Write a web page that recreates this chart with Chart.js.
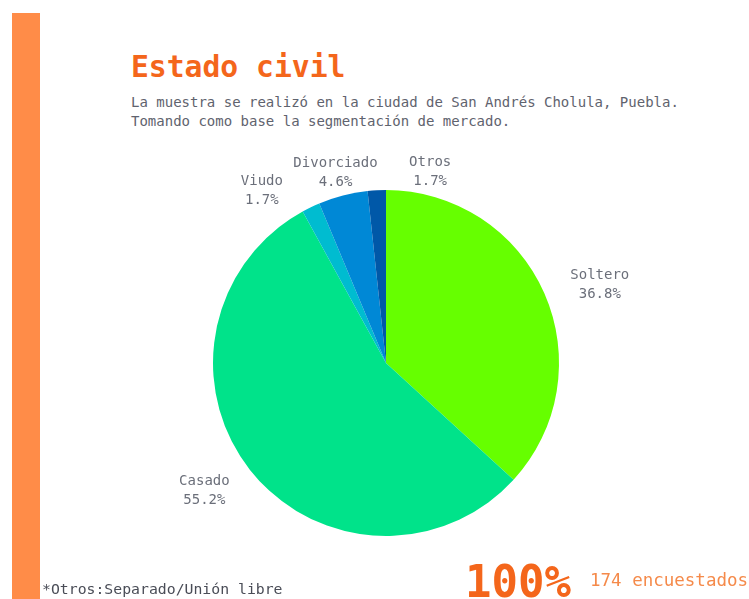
<!DOCTYPE html>
<html lang="es">
<head>
<meta charset="utf-8">
<title>Estado civil</title>
<script src="https://cdn.jsdelivr.net/npm/chart.js@4"></script>
<style>
  html, body { margin: 0; padding: 0; background: #ffffff; }
  body { width: 749px; height: 599px; position: relative; overflow: hidden;
         font-family: "DejaVu Sans Mono", "Liberation Mono", monospace; }
  .stripe { position: absolute; left: 12px; top: 13px; width: 28px; height: 586px; background: #ff8c48; }
  .title { position: absolute; left: 131px; top: 52px; font-size: 29.7px; line-height: 30px;
           font-weight: bold; color: #f4661b; white-space: nowrap; }
  .subtitle { position: absolute; left: 131px; top: 93px; font-size: 14px; line-height: 19px;
              color: #5f636e; white-space: nowrap; }
  .note { position: absolute; left: 42px; top: 581px; font-size: 14.8px; line-height: 15px;
          color: #4a4d57; white-space: nowrap; }
  .total { position: absolute; left: 465px; top: 560px; font-size: 44px; line-height: 44px;
           font-weight: bold; color: #f4661b; white-space: nowrap; }
  .count { position: absolute; left: 590px; top: 571px; font-size: 17.5px; line-height: 18px;
           color: #f58a4a; white-space: nowrap; }
  .chart-box { position: absolute; left: 86px; top: 143px; width: 600px; height: 440px; }
</style>
</head>
<body>
<div class="stripe"></div>
<div class="title">Estado civil</div>
<div class="subtitle">La muestra se realizó en la ciudad de San Andrés Cholula, Puebla.<br>Tomando como base la segmentación de mercado.</div>
<div class="chart-box"><canvas id="pie" width="600" height="440"></canvas></div>
<div class="note">*Otros:Separado/Unión libre</div>
<div class="total">100%</div>
<div class="count">174 encuestados</div>

<script>
// Estado civil de los encuestados (porcentaje)
const categories = ["Soltero", "Casado", "Viudo", "Divorciado", "Otros"];
const percentages = [36.8, 55.2, 1.7, 4.6, 1.7];
const sliceColors = ["#66ff00", "#00e38a", "#00bcd0", "#0088d6", "#0058a8"];

// label placement: extra radial distance and nudge for each slice
const labelGap = 30;
const labelNudge = [[28, 4], [-22, 2], [-36, 11], [0, 6], [55, 12]];

const sliceLabels = {
  id: "sliceLabels",
  afterDatasetsDraw(chart) {
    const ctx = chart.ctx;
    const meta = chart.getDatasetMeta(0);
    ctx.save();
    ctx.font = "14px 'DejaVu Sans Mono', monospace";
    ctx.fillStyle = "#6b6f7a";
    ctx.textAlign = "center";
    ctx.textBaseline = "middle";
    meta.data.forEach((arc, i) => {
      const p = arc.getProps(["x", "y", "startAngle", "endAngle", "outerRadius"], true);
      const mid = (p.startAngle + p.endAngle) / 2;
      const r = p.outerRadius + labelGap;
      const x = p.x + Math.cos(mid) * r + labelNudge[i][0];
      const y = p.y + Math.sin(mid) * r + labelNudge[i][1];
      ctx.fillText(categories[i], x, y - 9.5);
      ctx.fillText(percentages[i].toFixed(1) + "%", x, y + 9.5);
    });
    ctx.restore();
  }
};

new Chart(document.getElementById("pie"), {
  type: "pie",
  data: {
    labels: categories,
    datasets: [{
      data: percentages,
      backgroundColor: sliceColors,
      borderWidth: 0,
      hoverOffset: 0
    }]
  },
  options: {
    responsive: false,
    animation: false,
    layout: { padding: { top: 47, bottom: 47, left: 127, right: 127 } },
    plugins: {
      legend: { display: false },
      tooltip: { enabled: false }
    }
  },
  plugins: [sliceLabels]
});
</script>
</body>
</html>
